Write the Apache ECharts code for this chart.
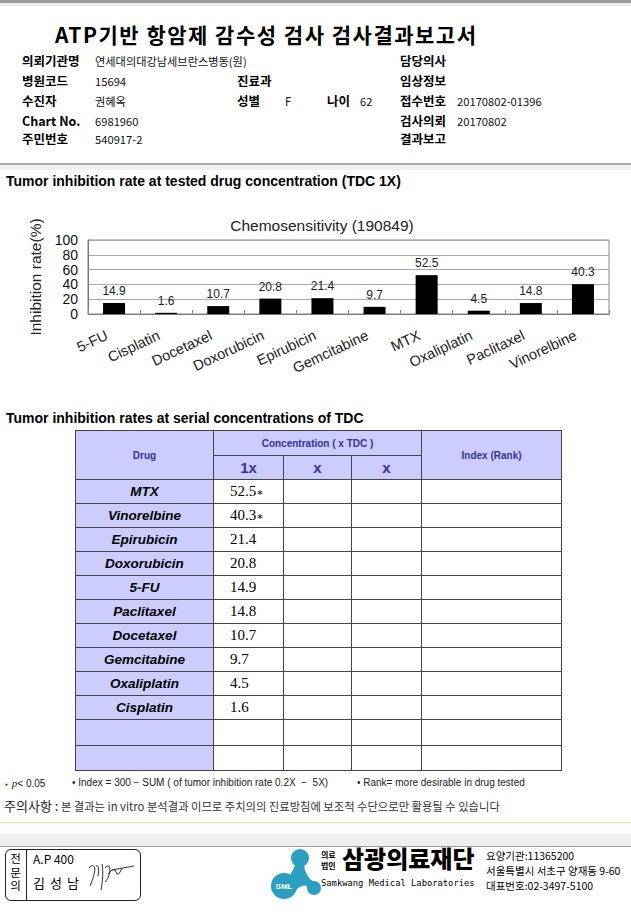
<!DOCTYPE html>
<html><head><meta charset="utf-8">
<script src="https://cdn.jsdelivr.net/npm/echarts@6/dist/echarts.min.js"></script>
<style>
html,body{margin:0;padding:0;background:#fff;}
body{width:631px;height:912px;position:relative;overflow:hidden;font-family:"Liberation Sans","Noto Sans CJK KR",sans-serif;color:#000;}
.a{position:absolute;white-space:nowrap;line-height:1;}
.k{font-family:"Noto Sans CJK KR","Liberation Sans",sans-serif;}
.lb{font-weight:bold;font-size:12.5px;font-family:"Noto Sans CJK KR","Liberation Sans",sans-serif;}
.vl{font-size:11.2px;font-family:"Noto Sans CJK KR","Liberation Sans",sans-serif;color:#111;}
table.t{position:absolute;left:75px;top:430px;border-collapse:collapse;table-layout:fixed;width:486px;}
table.t td{border:1px solid #444;padding:0;text-align:center;vertical-align:middle;overflow:hidden;}
table.t td.h{background:#ccccff;color:#333399;font-weight:bold;font-size:10px;}
table.t td.hb{background:#ccccff;color:#333399;font-weight:bold;font-size:15px;}
table.t td.d{background:#ccccff;font-weight:bold;font-style:italic;font-size:13.5px;}
table.t td.v{font-family:"Liberation Serif","DejaVu Serif",serif;font-size:15px;text-align:left;padding-left:16px;}
</style></head>
<body>
<div class="a" style="left:0;top:0;width:631px;height:3px;background:#9a9a9a;"></div>
<div class="a" style="left:0;top:3px;width:631px;height:3px;background:#ececec;"></div>

<div class="a k" style="left:55px;top:24px;font-size:21px;font-weight:bold;letter-spacing:1.5px;">ATP기반 항암제 감수성 검사 검사결과보고서</div>

<div class="a lb" style="left:22px;top:55px;">의뢰기관명</div><div class="a vl" style="left:95px;top:56px;">연세대의대강남세브란스병동(원)</div><div class="a lb" style="left:400px;top:55px;">담당의사</div>
<div class="a lb" style="left:22px;top:75px;">병원코드</div><div class="a vl" style="left:95px;top:76px;">15694</div><div class="a lb" style="left:237px;top:75px;">진료과</div><div class="a lb" style="left:400px;top:75px;">임상정보</div>
<div class="a lb" style="left:22px;top:95px;">수진자</div><div class="a vl" style="left:95px;top:96px;">권혜옥</div><div class="a lb" style="left:237px;top:95px;">성별</div><div class="a vl" style="left:285px;top:96px;">F</div><div class="a lb" style="left:327px;top:95px;">나이</div><div class="a vl" style="left:360px;top:96px;">62</div><div class="a lb" style="left:400px;top:95px;">접수번호</div><div class="a vl" style="left:457px;top:96px;">20170802-01396</div>
<div class="a lb" style="left:22px;top:115px;">Chart No.</div><div class="a vl" style="left:95px;top:116px;">6981960</div><div class="a lb" style="left:400px;top:115px;">검사의뢰</div><div class="a vl" style="left:457px;top:116px;">20170802</div>
<div class="a lb" style="left:22px;top:133px;">주민번호</div><div class="a vl" style="left:95px;top:134px;">540917-2</div><div class="a lb" style="left:400px;top:133px;">결과보고</div>

<div class="a" style="left:0;top:163px;width:631px;height:2px;background:#a8a8a8;"></div>
<div class="a" style="left:0;top:165px;width:631px;height:5px;background:#f1f1f1;"></div>

<div class="a" style="left:6px;top:174px;font-size:14px;font-weight:bold;">Tumor inhibition rate at tested drug concentration (TDC 1X)</div>
<div id="chart" class="a" style="left:0;top:200px;width:631px;height:210px;"></div>

<div class="a" style="left:6px;top:411px;font-size:14px;font-weight:bold;">Tumor inhibition rates at serial concentrations of TDC</div>
<table class="t" id="tbl"></table>

<div class="a" style="left:4px;top:778px;font-size:10px;color:#222;"><span style="font-size:8px;">⋆</span> <i style="font-family:'Liberation Serif',serif;font-size:11px;">p</i>&lt; 0.05</div>
<div class="a" style="left:72px;top:778px;font-size:10px;color:#222;">• Index = 300 − SUM ( of tumor inhibition rate 0.2X &nbsp;−&nbsp; 5X)</div>
<div class="a" style="left:357px;top:778px;font-size:10px;color:#222;">• Rank= more desirable in drug tested</div>
<div class="a k" style="left:4px;top:799px;font-size:13px;color:#222;">주의사항 :<span style="font-size:11.3px;color:#333;"> 본 결과는 in vitro 분석결과 이므로 주치의의 진료방침에 보조적 수단으로만 활용될 수 있습니다</span></div>

<div class="a" style="left:0;top:822px;width:631px;height:1px;background:#f0dc9a;"></div>
<div class="a" style="left:0;top:833px;width:631px;height:13px;background:#efefef;"></div>
<div class="a" style="left:0;top:846px;width:631px;height:1px;background:#9a9a9a;"></div>

<div class="a" style="left:5px;top:849px;width:134px;height:50px;border:1px solid #222;border-radius:6px;"></div>
<div class="a" style="left:26px;top:849px;width:1px;height:52px;background:#222;"></div>
<div class="a k" style="left:9px;top:853px;font-size:11.5px;writing-mode:vertical-rl;text-orientation:upright;letter-spacing:2px;">전문의</div>
<div class="a k" style="left:33px;top:853px;font-size:12px;">A.P 400</div>
<div class="a k" style="left:33px;top:876px;font-size:13px;letter-spacing:5px;">김성남</div>
<svg class="a" style="left:86px;top:856px;" width="50" height="40" viewBox="0 0 50 40">
 <path d="M3 12 Q8 6 9 14 Q7 24 4 30 M10 10 Q14 8 12 20 M16 8 Q18 18 15 34 M19 12 Q24 6 24 16 Q22 24 19 26 M22 18 Q28 10 30 16 Q32 22 36 12 M26 14 L48 10" fill="none" stroke="#333" stroke-width="1"/>
</svg>

<svg class="a" style="left:266px;top:848px;" width="60" height="58" viewBox="0 0 60 58">
 <circle cx="34" cy="10" r="9" fill="#2a9fbf"/>
 <path d="M30 14 Q26 28 18 32 L30 42 Q38 34 44 40 L48 34 Q38 28 38 14 Z" fill="#2a9fbf"/>
 <circle cx="18" cy="38" r="13" fill="#2a9fbf"/>
 <circle cx="48" cy="40" r="7" fill="#2a9fbf"/>
 <text x="18" y="41" font-size="8" font-weight="bold" fill="#fff" text-anchor="middle" font-family="Liberation Sans">SML</text>
</svg>
<div class="a k" style="left:321px;top:851px;font-size:8px;font-weight:bold;">의료</div>
<div class="a k" style="left:321px;top:862px;font-size:8px;font-weight:bold;">법인</div>
<div class="a k" style="left:342px;top:846px;font-size:24px;font-weight:900;">삼광의료재단</div>
<div class="a" style="left:321px;top:879px;font-size:8.8px;font-family:'DejaVu Sans Mono',monospace;">Samkwang Medical Laboratories</div>
<div class="a k" style="left:486px;top:851px;font-size:10.5px;">요양기관:11365200</div>
<div class="a k" style="left:486px;top:866px;font-size:10.5px;">서울특별시 서초구 양재동 9-60</div>
<div class="a k" style="left:486px;top:881px;font-size:10.5px;">대표번호:02-3497-5100</div>

<script>
const drugs = ['5-FU','Cisplatin','Docetaxel','Doxorubicin','Epirubicin','Gemcitabine','MTX','Oxaliplatin','Paclitaxel','Vinorelbine'];
const rates = [14.9, 1.6, 10.7, 20.8, 21.4, 9.7, 52.5, 4.5, 14.8, 40.3];
const significant = ['MTX','Vinorelbine'];
const yTicks = [0, 20, 40, 60, 80, 100];
const chartTitle = 'Chemosensitivity (190849)';
const yName = 'Inhibition rate(%)';

const chart = echarts.init(document.getElementById('chart'), null, {renderer:'svg'});
chart.setOption({
  animation:false,
  title:{text:chartTitle,left:317,textAlign:'center',top:12,textStyle:{fontSize:15.5,fontWeight:'normal',color:'#222',fontFamily:'Liberation Sans'}},
  grid:{left:88,right:22,top:40,height:74,show:true,borderColor:'#888',borderWidth:1},
  xAxis:{type:'category',data:drugs,axisLine:{lineStyle:{color:'#777'}},
    axisTick:{show:true,inside:true,length:4,lineStyle:{color:'#888'}},
    axisLabel:{rotate:25,fontSize:14.5,color:'#222',margin:17,padding:[0,8,0,0],fontFamily:'Liberation Sans',interval:0}},
  yAxis:{type:'value',min:yTicks[0],max:yTicks[yTicks.length-1],interval:20,
    name:yName,nameLocation:'middle',nameGap:45,nameRotate:90,nameTextStyle:{fontSize:15.5,color:'#222',fontFamily:'Liberation Sans'},
    axisLine:{show:true,lineStyle:{color:'#777'}},axisTick:{show:false},
    axisLabel:{fontSize:14,color:'#111',margin:10,fontFamily:'Liberation Sans',showMinLabel:true,showMaxLabel:true,hideOverlap:false,lineHeight:14},
    splitLine:{lineStyle:{color:'#aaa'}}},
  series:[{type:'bar',data:rates,barWidth:22,itemStyle:{color:'#000'},
    label:{show:true,position:'top',distance:6,fontSize:12,color:'#222',fontFamily:'Liberation Sans'}}]
});

// table built from the same arrays, sorted by inhibition rate
const order = drugs.map((d,i)=>i).sort((a,b)=>rates[b]-rates[a]);
let html = '<colgroup><col style="width:138px"><col style="width:70px"><col style="width:68px"><col style="width:70px"><col style="width:140px"></colgroup>';
html += '<tr style="height:25px"><td class="h" rowspan="2">Drug</td><td class="h" colspan="3">Concentration ( x TDC )</td><td class="h" rowspan="2">Index (Rank)</td></tr>';
html += '<tr style="height:24px"><td class="hb">1x</td><td class="hb">x</td><td class="hb">x</td></tr>';
order.forEach(i=>{
  const star = significant.includes(drugs[i]) ? '<span style="font-size:11px;">∗</span>' : '';
  html += '<tr style="height:24px"><td class="d">'+drugs[i]+'</td><td class="v">'+rates[i].toFixed(1)+star+'</td><td></td><td></td><td></td></tr>';
});
html += '<tr style="height:26px"><td class="d"></td><td></td><td></td><td></td><td></td></tr>';
html += '<tr style="height:25px"><td class="d"></td><td></td><td></td><td></td><td></td></tr>';
document.getElementById('tbl').innerHTML = html;
</script>
</body></html>
